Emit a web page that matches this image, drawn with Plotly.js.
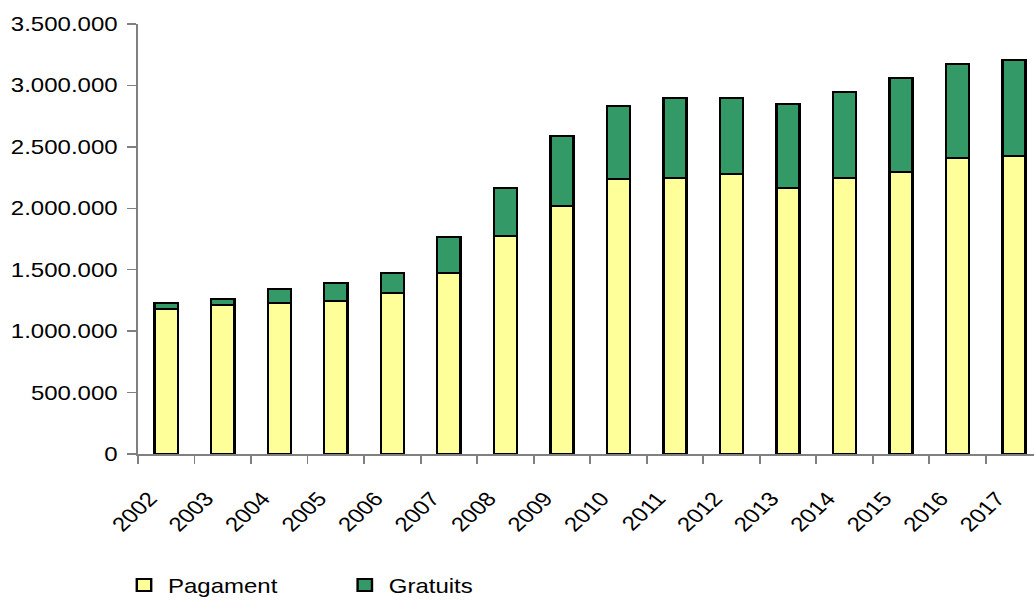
<!DOCTYPE html>
<html>
<head>
<meta charset="utf-8">
<script src="https://cdn.plot.ly/plotly-3.0.1.min.js"></script>
<style>html,body{margin:0;padding:0;background:#fff;overflow:hidden;}
#chart{width:862px;height:603px;transform:scaleX(1.2);transform-origin:0 0;}</style>
</head>
<body>
<div id="chart"></div>
<script>
const years = ['2002','2003','2004','2005','2006','2007','2008','2009','2010','2011','2012','2013','2014','2015','2016','2017'];
const pagament = [1180000, 1213000, 1229000, 1245000, 1310000, 1471000, 1777000, 2021000, 2236000, 2249000, 2282000, 2165000, 2247000, 2295000, 2412000, 2426000];
const gratuits = [52000, 49000, 114000, 147000, 163000, 295000, 391000, 570000, 599000, 649000, 618000, 686000, 700000, 763000, 760000, 779000];
const seriesNames = ['Pagament', 'Gratuits'];

const font = {family: 'Liberation Sans, Arial, sans-serif', size: 20, color: '#000'};

const traces = [
  {type: 'bar', name: seriesNames[0], x: years, y: pagament,
   marker: {color: '#FFFF99', line: {color: '#000', width: 2}}},
  {type: 'bar', name: seriesNames[1], x: years, y: gratuits,
   marker: {color: '#339966', line: {color: '#000', width: 2}}}
];

const layout = {
  width: 862, height: 603,
  margin: {l: 115, r: 0, t: 24, b: 149},
  barmode: 'stack',
  bargap: 0.59,
  separators: ',.',
  font: font,
  paper_bgcolor: '#fff', plot_bgcolor: '#fff',
  showlegend: true,
  xaxis: {
    type: 'category',
    range: [-0.5, 15.36],
    showline: true, linecolor: '#808080', linewidth: 2,
    ticks: 'outside', tickson: 'boundaries', ticklen: 8, tickcolor: '#808080', tickwidth: 1.5,
    tickangle: -48, tickfont: font,
    ticklabelstandoff: 23, ticklabelshift: -14,
    showgrid: false, zeroline: false
  },
  yaxis: {
    range: [0, 3500000],
    dtick: 500000, tick0: 0,
    tickformat: ',d',
    showline: true, linecolor: '#808080', linewidth: 2,
    ticks: 'outside', ticklen: 7, tickcolor: '#808080', tickwidth: 1.5,
    ticklabelstandoff: 4,
    tickfont: font,
    showgrid: false, zeroline: false
  },
  legend: {
    orientation: 'h',
    xref: 'container', yref: 'container',
    x: 0.1160, y: 0.03, xanchor: 'left', yanchor: 'middle',
    font: font,
    itemwidth: 30,
    entrywidth: 139, entrywidthmode: 'pixels',
    traceorder: 'normal'
  }
};

Plotly.newPlot('chart', traces, layout, {displayModeBar: false, staticPlot: true});
</script>
</body>
</html>
